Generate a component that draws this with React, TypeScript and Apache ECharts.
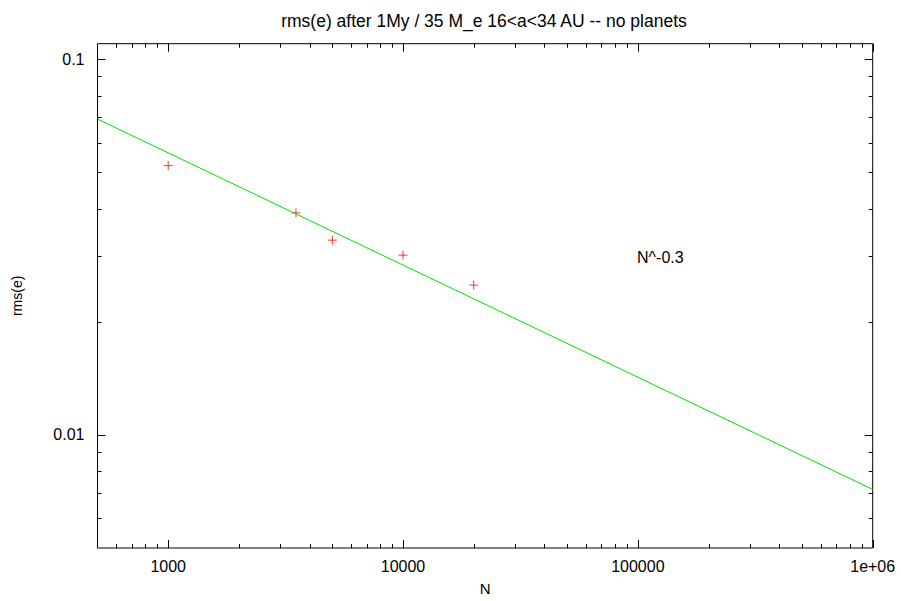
import React, { useEffect, useRef } from "react";
import * as echarts from "echarts";

// ---- data ----
const sampleN = [1000, 3500, 5000, 10000, 20000];
const sampleRms = [0.0521, 0.039, 0.033, 0.0301, 0.02505];

const fitN = [500, 1000000];
const fitRms = [0.0693, 0.00716];

const X_MIN = 500;
const X_MAX = 1000000;
const Y_MIN = 0.005;
const Y_MAX = 0.11;

const xMajorTicks = [1000, 10000, 100000, 1000000];
const xMajorLabels = ["1000", "10000", "100000", "1e+06"];
const xMinorTicks = [
  600, 700, 800, 900,
  2000, 3000, 4000, 5000, 6000, 7000, 8000, 9000,
  20000, 30000, 40000, 50000, 60000, 70000, 80000, 90000,
  200000, 300000, 400000, 500000, 600000, 700000, 800000, 900000,
];
const yMajorTicks = [0.01, 0.1];
const yMajorLabels = ["0.01", "0.1"];
const yMinorTicks = [
  0.006, 0.007, 0.008, 0.009,
  0.02, 0.03, 0.04, 0.05, 0.06, 0.07, 0.08, 0.09,
];

const titleText = "rms(e) after 1My / 35 M_e 16<a<34 AU -- no planets";
const fitLabel = "N^-0.3";
const xName = "N";
const yName = "rms(e)";

const FONT = "'Liberation Sans', Arial, Helvetica, sans-serif";

function labelFor(v: number, ticks: number[], labels: string[]) {
  for (let i = 0; i < ticks.length; i++) {
    if (Math.abs(Math.log10(v) - Math.log10(ticks[i])) < 1e-6) return labels[i];
  }
  return "";
}

export default function App() {
  const ref = useRef<HTMLDivElement>(null);
  useEffect(() => {
    if (!ref.current) return;
    const chart = echarts.init(ref.current, undefined, { renderer: "svg" });

    const xTickData = [
      ...xMajorTicks.map((v) => [v, Y_MIN, 8]),
      ...xMinorTicks.map((v) => [v, Y_MIN, 4]),
    ];
    const yTickData = [
      ...yMajorTicks.map((v) => [X_MIN, v, 8]),
      ...yMinorTicks.map((v) => [X_MIN, v, 4]),
    ];

    const tickStyle = { stroke: "#000", lineWidth: 1 };

    chart.setOption({
      animation: false,
      backgroundColor: "#fff",
      grid: {
        left: 97.5,
        right: 28.3,
        top: 43.7,
        bottom: 49,
        show: true,
        borderColor: "#000",
        borderWidth: 1,
        backgroundColor: "transparent",
        containLabel: false,
      },
      xAxis: {
        type: "log",
        logBase: 10,
        min: X_MIN,
        max: X_MAX,
        name: xName,
        nameLocation: "middle",
        nameGap: 33,
        nameTextStyle: { fontFamily: FONT, fontSize: 15, color: "#000" },
        axisLine: { show: false },
        axisTick: { show: false },
        splitLine: { show: false },
        minorTick: { show: false },
        axisLabel: {
          margin: 10,
          fontFamily: FONT,
          fontSize: 16,
          color: "#000",
          showMinLabel: true,
          showMaxLabel: true,
          formatter: (v: number) => labelFor(v, xMajorTicks, xMajorLabels),
        },
      },
      yAxis: {
        type: "log",
        logBase: 10,
        min: Y_MIN,
        max: Y_MAX,
        name: yName,
        nameLocation: "middle",
        nameGap: 74,
        nameRotate: 90,
        nameTextStyle: { fontFamily: FONT, fontSize: 14, color: "#000" },
        axisLine: { show: false },
        axisTick: { show: false },
        splitLine: { show: false },
        minorTick: { show: false },
        axisLabel: {
          margin: 13,
          fontFamily: FONT,
          fontSize: 16,
          color: "#000",
          formatter: (v: number) => labelFor(v, yMajorTicks, yMajorLabels),
        },
      },
      graphic: [
        {
          type: "text",
          x: 484,
          y: 21,
          style: {
            text: titleText,
            font: `17.5px ${FONT}`,
            fill: "#000",
            align: "center",
            verticalAlign: "middle",
          },
        },
        {
          type: "text",
          left: 637,
          top: 249,
          style: { text: fitLabel, font: `16px ${FONT}`, fill: "#000" },
        },
      ],
      series: [
        {
          type: "custom",
          name: "xticks",
          data: xTickData,
          silent: true,
          clip: false,
          renderItem: (params: any, api: any) => {
            const cs = params.coordSys;
            const p = api.coord([api.value(0), api.value(1)]);
            const len = api.value(2);
            const x = Math.round(p[0]) + 0.5;
            const yb = cs.y + cs.height;
            return {
              type: "group",
              children: [
                { type: "line", shape: { x1: x, y1: yb, x2: x, y2: yb - len }, style: tickStyle },
                { type: "line", shape: { x1: x, y1: cs.y, x2: x, y2: cs.y + len }, style: tickStyle },
              ],
            };
          },
        },
        {
          type: "custom",
          name: "yticks",
          data: yTickData,
          silent: true,
          clip: false,
          renderItem: (params: any, api: any) => {
            const cs = params.coordSys;
            const p = api.coord([api.value(0), api.value(1)]);
            const len = api.value(2);
            const y = Math.round(p[1]) + 0.5;
            const xr = cs.x + cs.width;
            return {
              type: "group",
              children: [
                { type: "line", shape: { x1: cs.x, y1: y, x2: cs.x + len, y2: y }, style: tickStyle },
                { type: "line", shape: { x1: xr, y1: y, x2: xr - len, y2: y }, style: tickStyle },
              ],
            };
          },
        },
        {
          type: "line",
          name: "fit",
          data: fitN.map((n, i) => [n, fitRms[i]]),
          showSymbol: false,
          symbol: "none",
          lineStyle: { color: "#00e000", width: 1 },
          silent: true,
        },
        {
          type: "scatter",
          name: "rms",
          data: sampleN.map((n, i) => [n, sampleRms[i]]),
          symbol: "path://M5 0 L5 10 M0 5 L10 5",
          symbolSize: 9,
          itemStyle: { color: "none", borderColor: "#ff0000", borderWidth: 1 },
          silent: true,
        },
      ],
    });
    return () => chart.dispose();
  }, []);
  return (
    <div
      ref={ref}
      style={{ position: "fixed", left: 0, top: 0, width: 901, height: 601 }}
    />
  );
}
